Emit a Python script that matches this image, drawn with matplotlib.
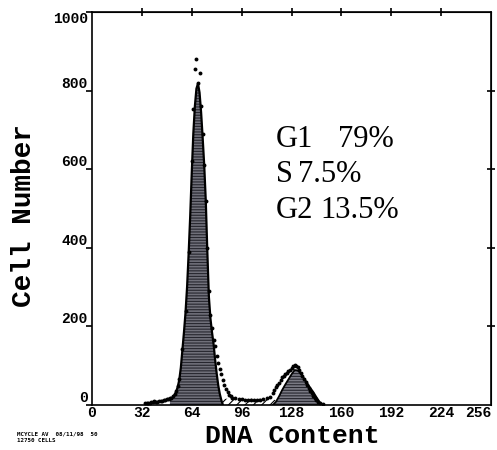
import matplotlib
matplotlib.use("Agg")
import matplotlib.pyplot as plt

# G1 peak (fitted area), channel -> cell count
g1_ch = [50, 51, 52, 53, 54, 55, 56, 57, 58, 59, 60, 61, 62, 63, 64, 65, 66, 67, 68,
         69, 70, 71, 72, 73, 74, 75, 76, 77, 78, 79, 80, 81, 82, 83, 84]
g1_val = [13, 16, 20, 26, 34, 46, 64, 95, 140, 185, 235, 300, 385, 480, 590, 690, 760, 805, 818,
          795, 745, 680, 610, 520, 390, 275, 220, 185, 155, 115, 80, 50, 28, 12, 0]

# S phase band (hatched)
s_ch = [72, 74, 76, 80, 90, 100, 110, 116, 118, 120]
s_val = [0, 12, 15, 16, 16, 16, 16, 15, 12, 0]

# G2 peak
g2_ch = [116, 118, 120, 122, 124, 126, 128, 130, 132, 134, 136, 138, 140, 142, 144, 146, 147]
g2_val = [0, 8, 22, 38, 52, 65, 78, 89, 88, 80, 68, 56, 44, 33, 20, 8, 0]

# measured histogram points
dot_ch = [34, 35, 36, 37, 38, 39, 40, 41, 42, 43, 44, 45, 46, 47, 48, 49, 50, 51, 52, 53, 54, 55,
          56, 58, 60, 62, 64, 65, 66, 67, 68, 69, 70, 71, 72, 73, 74, 75, 76, 77, 78, 79, 80,
          81, 82, 83, 84, 85, 86, 87, 88, 89, 90, 92, 94, 96, 98, 100, 102, 104, 106, 108,
          110, 112, 114, 116, 117, 118, 119, 120, 121, 122, 123, 124, 125, 126, 127, 128,
          129, 130, 131, 132, 133, 134, 135, 136, 137, 138, 139, 140, 141, 142, 143, 144,
          145, 146, 148]
dot_val = [4, 5, 5, 6, 7, 8, 9, 8, 8, 9, 10, 11, 12, 13, 14, 15, 17, 19, 22, 27, 35, 48,
           66, 142, 240, 390, 620, 752, 855, 880, 820, 846, 760, 690, 610, 520, 400, 290, 230,
           195, 165, 150, 125, 108, 92, 78, 64, 50, 40, 32, 26, 22, 19, 17, 15, 14, 13, 13, 12,
           12, 13, 13, 15, 17, 21, 30, 38, 45, 50, 56, 64, 71, 75, 78, 81, 86, 90, 94, 98,
           102, 100, 97, 90, 81, 74, 66, 58, 50, 42, 35, 30, 23, 17, 13, 8, 4, 2]

xticks = [0, 32, 64, 96, 128, 160, 192, 224, 256]
yticks = [0, 200, 400, 600, 800, 1000]
stats = [("G1", "79%"), ("S", "7.5%"), ("G2", "13.5%")]

plt.rcParams['hatch.linewidth'] = 0.8
tickfont = {'family': 'Liberation Mono', 'weight': 'bold', 'size': 10.5}

fig = plt.figure(figsize=(4.97, 4.5), dpi=100)
ax = fig.add_axes([92 / 497, 45 / 450, 399 / 497, 393 / 450])

ax.fill_between(s_ch, s_val, color='white', edgecolor='black', hatch='////', linewidth=0)
ax.fill_between(g1_ch, g1_val, facecolor='#70707a', edgecolor='#26262e', hatch='------', linewidth=0)
ax.plot(g1_ch, g1_val, color='black', lw=1.6)
ax.fill_between(g2_ch, g2_val, facecolor='#7a7a84', edgecolor='#26262e', hatch='------', linewidth=0)
ax.plot(g2_ch, g2_val, color='black', lw=1.3)
ax.plot(dot_ch, dot_val, 'o', color='black', ms=2.8, mew=0)

ax.set_xlim(0, 256)
ax.set_ylim(0, 1000)
for sp in ax.spines.values():
    sp.set_linewidth(1.2)

ax.set_xticks(xticks)
ax.set_xticklabels([str(t) for t in xticks], fontdict=tickfont)
ax.xaxis.get_ticklabels()[-1].set_ha('right')
ax.tick_params(axis='x', length=0, pad=1)
ax.set_yticks(yticks)
ax.set_yticklabels([str(t) for t in yticks], fontdict=tickfont)
for lab in ax.get_yticklabels():
    lab.set_va('bottom')
ax.get_yticklabels()[-1].set_va('top')
ax.tick_params(axis='y', length=4, width=1.2, pad=-1, direction='out')

top = ax.secondary_xaxis('top')
top.set_xticks(xticks[1:-1])
top.tick_params(direction='inout', length=6, width=1.2, labeltop=False)
right = ax.secondary_yaxis('right')
right.set_yticks(yticks[1:-1])
right.tick_params(direction='inout', length=6, width=1.2, labelright=False)

fig.text(292 / 497, 1 - 436 / 450, "DNA Content", ha='center', va='center',
         family='Liberation Mono', weight='bold', size=19)
fig.text(24 / 497, 1 - 216 / 450, "Cell Number", ha='center', va='center', rotation=90,
         family='Liberation Mono', weight='bold', size=20)

for i, (name, pct) in enumerate(stats):
    yb = 1 - (147 + 35.5 * i) / 450
    fig.text(276 / 497, yb, name, family='Liberation Serif', size=22, va='baseline')
    xv = [338, 298, 320][i]
    fig.text(xv / 497, yb, pct, family='Liberation Serif', size=22, va='baseline')

fig.text(17 / 497, 1 - 434 / 450, "MCYCLE AV  08/11/98  50", family='DejaVu Sans Mono',
         weight='bold', size=4.2, va='center')
fig.text(17 / 497, 1 - 440 / 450, "12750 CELLS", family='DejaVu Sans Mono',
         weight='bold', size=4.2, va='center')

fig.savefig("out.png", dpi=100)
